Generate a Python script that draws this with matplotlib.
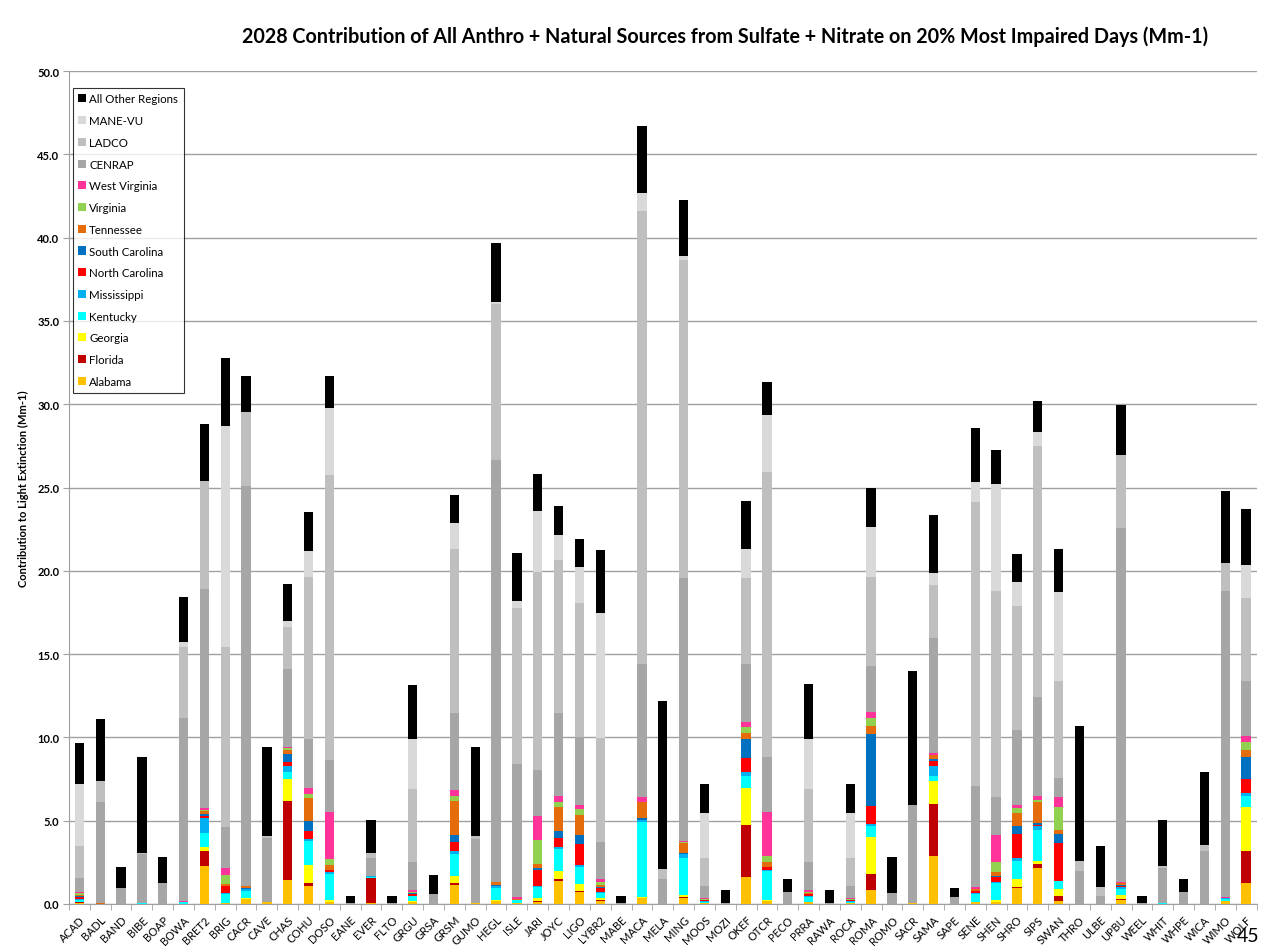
import matplotlib.pyplot as plt
import numpy as np

plt.rcParams['font.family'] = ['Lato', 'DejaVu Sans']

sites = ['ACAD', 'BADL', 'BAND', 'BIBE', 'BOAP', 'BOWA', 'BRET2', 'BRIG', 'CACR', 'CAVE',
         'CHAS', 'COHU', 'DOSO', 'EANE', 'EVER', 'FLTO', 'GRGU', 'GRSA', 'GRSM', 'GUMO',
         'HEGL', 'ISLE', 'JARI', 'JOYC', 'LIGO', 'LYBR2', 'MABE', 'MACA', 'MELA', 'MING',
         'MOOS', 'MOZI', 'OKEF', 'OTCR', 'PECO', 'PRRA', 'RAWA', 'ROCA', 'ROMA', 'ROMO',
         'SACR', 'SAMA', 'SAPE', 'SENE', 'SHEN', 'SHRO', 'SIPS', 'SWAN', 'THRO', 'ULBE',
         'UPBU', 'WEEL', 'WHIT', 'WHPE', 'WICA', 'WIMO', 'WOLF']

### contributions (Mm-1), one list per source, stacked bottom to top
alabama = [0.05, 0, 0, 0, 0, 0, 2.26, 0.06, 0.28, 0.1,
           1.46, 1.06, 0.12, 0, 0.05, 0, 0.1, 0, 1.16, 0.08,
           0.2, 0.03, 0.14, 1.4, 0.74, 0.2, 0, 0.36, 0, 0.36,
           0.05, 0, 1.64, 0.15, 0, 0.1, 0, 0.05, 0.86, 0,
           0.05, 2.9, 0, 0.1, 0.14, 0.94, 2.16, 0.2, 0, 0,
           0.25, 0, 0, 0, 0, 0.15, 1.26]
florida = [0.05, 0, 0, 0, 0, 0, 0.92, 0, 0.03, 0,
           4.7, 0.2, 0, 0, 1.5, 0, 0.02, 0, 0.1, 0,
           0, 0, 0.05, 0.1, 0.06, 0.03, 0, 0, 0, 0.06,
           0, 0, 3.12, 0, 0, 0, 0, 0, 0.94, 0,
           0, 3.1, 0, 0, 0, 0.1, 0.24, 0.26, 0, 0,
           0.06, 0, 0, 0, 0, 0, 1.94]
georgia = [0.02, 0, 0, 0, 0, 0, 0.26, 0, 0.02, 0,
           1.34, 1.08, 0.12, 0, 0, 0, 0.03, 0, 0.4, 0,
           0.05, 0, 0.15, 0.5, 0.4, 0.1, 0, 0.06, 0, 0.1,
           0.02, 0, 2.18, 0.1, 0, 0.03, 0, 0.02, 2.24, 0,
           0, 1.4, 0, 0.02, 0.12, 0.46, 0.2, 0.44, 0, 0,
           0.25, 0, 0, 0, 0, 0, 2.6]
kentucky = [0.12, 0.02, 0, 0.05, 0, 0.1, 0.82, 0.54, 0.45, 0,
            0.4, 1.46, 1.56, 0, 0.05, 0, 0.3, 0, 1.34, 0,
            0.7, 0.2, 0.66, 1.27, 1.0, 0.35, 0, 4.5, 0, 2.26,
            0.06, 0, 0.76, 1.7, 0, 0.3, 0, 0.06, 0.62, 0,
            0, 0.3, 0, 0.5, 1.0, 1.1, 1.84, 0.5, 0, 0,
            0.35, 0, 0.06, 0, 0, 0.15, 0.7]
mississippi = [0.03, 0, 0, 0, 0, 0, 0.88, 0.05, 0.1, 0,
               0.36, 0.1, 0.1, 0, 0.1, 0, 0.05, 0, 0.16, 0,
               0.1, 0.03, 0.06, 0.13, 0.14, 0.05, 0, 0.1, 0, 0.2,
               0.02, 0, 0.2, 0.1, 0, 0.05, 0, 0.02, 0.14, 0,
               0, 0.6, 0, 0.05, 0.08, 0.16, 0.22, 0, 0, 0,
               0.1, 0, 0, 0, 0, 0.05, 0.16]
n_carolina = [0.15, 0, 0, 0, 0, 0, 0.16, 0.4, 0.03, 0,
              0.28, 0.5, 0.16, 0, 0, 0, 0.1, 0, 0.54, 0,
              0.03, 0, 0.98, 0.54, 1.26, 0.25, 0, 0, 0, 0,
              0.06, 0, 0.84, 0.14, 0, 0.1, 0, 0.06, 1.1, 0,
              0, 0.3, 0, 0.08, 0.3, 1.42, 0.1, 2.24, 0, 0,
              0.05, 0, 0, 0, 0, 0, 0.84]
s_carolina = [0.03, 0, 0, 0, 0, 0, 0.1, 0.05, 0.05, 0,
              0.46, 0.6, 0, 0, 0, 0, 0.03, 0, 0.46, 0,
              0.06, 0, 0.1, 0.46, 0.54, 0.05, 0, 0.12, 0, 0.1,
              0.02, 0, 1.16, 0.02, 0, 0.03, 0, 0.02, 4.3, 0,
              0, 0.1, 0, 0.03, 0.06, 0.52, 0.08, 0.56, 0, 0,
              0.1, 0, 0, 0, 0, 0, 1.34]
tennessee = [0.08, 0.02, 0, 0, 0, 0, 0.2, 0.1, 0.1, 0,
             0.26, 1.34, 0.3, 0, 0, 0, 0.05, 0, 2.04, 0,
             0.15, 0.03, 0.26, 1.4, 1.2, 0.12, 0, 0.96, 0, 0.6,
             0.03, 0, 0.36, 0.32, 0, 0.05, 0, 0.03, 0.5, 0,
             0, 0.24, 0, 0.1, 0.2, 0.76, 1.26, 0.26, 0, 0,
             0.1, 0, 0, 0, 0, 0, 0.4]
virginia = [0.1, 0, 0, 0, 0, 0, 0.05, 0.56, 0, 0,
            0.1, 0.26, 0.34, 0, 0, 0, 0.05, 0, 0.3, 0,
            0.02, 0.02, 1.44, 0.3, 0.36, 0.15, 0, 0.05, 0, 0.04,
            0.04, 0, 0.38, 0.32, 0, 0.07, 0, 0.04, 0.46, 0,
            0, 0.02, 0, 0.02, 0.64, 0.3, 0.16, 1.38, 0, 0,
            0.02, 0, 0, 0, 0, 0, 0.46]
w_virginia = [0.1, 0.01, 0, 0, 0, 0.05, 0.1, 0.4, 0, 0,
              0.08, 0.36, 2.8, 0, 0, 0, 0.1, 0, 0.36, 0,
              0.03, 0.1, 1.46, 0.36, 0.26, 0.2, 0, 0.25, 0, 0.08,
              0.05, 0, 0.3, 2.68, 0, 0.1, 0, 0.05, 0.34, 0,
              0, 0.08, 0, 0.1, 1.62, 0.2, 0.24, 0.6, 0, 0,
              0.02, 0, 0, 0, 0, 0.05, 0.4]
cenrap = [0.8, 6.05, 0.95, 2.95, 1.25, 11.0, 13.15, 2.44, 24.06, 3.85,
          4.66, 2.94, 3.16, 0.05, 1.05, 0.05, 1.7, 0.6, 4.6, 3.8,
          25.3, 8.0, 2.76, 4.99, 4.08, 2.2, 0.05, 8.0, 1.5, 15.78,
          0.75, 0.05, 3.46, 3.27, 0.7, 1.7, 0.05, 0.75, 2.78, 0.65,
          5.9, 6.91, 0.4, 6.1, 2.24, 4.48, 5.95, 1.1, 2.0, 0.5,
          21.26, 0.05, 2.1, 0.7, 3.15, 18.4, 3.3]
ladco = [1.96, 1.3, 0.02, 0.05, 0, 4.3, 6.5, 10.8, 4.4, 0.15,
         2.5, 9.73, 17.1, 0, 0.3, 0, 4.4, 0, 9.84, 0.2,
         9.36, 9.34, 11.84, 9.2, 8.05, 6.25, 0, 27.18, 0.6, 19.07,
         1.65, 0, 5.18, 17.16, 0, 4.4, 0, 1.65, 5.35, 0,
         0, 3.2, 0, 17.05, 12.4, 7.46, 15.05, 5.86, 0.6, 0.5,
         4.39, 0, 0.1, 0, 0.4, 1.69, 4.97]
manevu = [3.7, 0, 0, 0, 0, 0.25, 0, 13.3, 0, 0,
          0.4, 1.55, 4.0, 0, 0, 0, 3.0, 0, 1.54, 0,
          0.16, 0.41, 3.68, 1.48, 2.16, 7.52, 0, 1.11, 0, 0.26,
          2.7, 0, 1.74, 3.37, 0, 3.0, 0, 2.7, 2.97, 0,
          0, 0.74, 0, 1.19, 6.44, 1.45, 0.83, 5.35, 0, 0,
          0, 0, 0, 0, 0, 0, 1.97]
other = [2.5, 3.7, 1.25, 5.75, 1.55, 2.7, 3.4, 4.1, 2.18, 5.35,
         2.2, 2.32, 1.95, 0.45, 2.0, 0.45, 3.2, 1.15, 1.74, 5.35,
         3.49, 2.92, 2.26, 1.76, 1.64, 3.78, 0.45, 4.0, 10.08, 3.33,
         1.75, 0.8, 2.85, 2.02, 0.8, 3.25, 0.8, 1.75, 2.38, 2.15,
         8.05, 3.43, 0.55, 3.23, 2.0, 1.66, 1.88, 2.57, 8.1, 2.45,
         2.98, 0.45, 2.8, 0.8, 4.4, 4.32, 3.36]

series = [('Alabama', alabama, '#FFC000'),
          ('Florida', florida, '#C00000'),
          ('Georgia', georgia, '#FFFF00'),
          ('Kentucky', kentucky, '#00FFFF'),
          ('Mississippi', mississippi, '#00B0F0'),
          ('North Carolina', n_carolina, '#FF0000'),
          ('South Carolina', s_carolina, '#0070C0'),
          ('Tennessee', tennessee, '#E46C0A'),
          ('Virginia', virginia, '#92D050'),
          ('West Virginia', w_virginia, '#FF3399'),
          ('CENRAP', cenrap, '#A6A6A6'),
          ('LADCO', ladco, '#BFBFBF'),
          ('MANE-VU', manevu, '#D9D9D9'),
          ('All Other Regions', other, '#000000')]

fig = plt.figure(figsize=(12.77, 9.53), dpi=100)
ax = fig.add_axes([0.054, 0.0504, 0.93, 0.874])

x = np.arange(len(sites))
bottom = np.zeros(len(sites))
for name, vals, col in series:
    vals = np.array(vals)
    ax.bar(x, vals, 0.45, bottom=bottom, color=col, label=name, zorder=3)
    bottom += vals

ax.set_xlim(-0.5, len(sites) - 0.5)
ax.set_ylim(0, 50)
ax.set_yticks(np.arange(0, 50.1, 5))
ax.set_yticklabels(['%.1f' % v for v in np.arange(0, 50.1, 5)], fontsize=8, fontweight='bold')
ax.yaxis.grid(True, color='#A0A0A0', lw=1, zorder=0)
ax.tick_params(axis='y', length=4, color='#A0A0A0', pad=3)

ax.set_xticks(x)
ax.set_xticklabels(sites, rotation=45, ha='right', rotation_mode='anchor', fontsize=8)
ax.set_xticks(np.arange(-0.5, len(sites), 1), minor=True)
ax.tick_params(axis='x', which='major', length=0, pad=7)
ax.tick_params(axis='x', which='minor', length=4, color='#A0A0A0')

for s in ['top', 'right']:
    ax.spines[s].set_visible(False)
for s in ['left', 'bottom']:
    ax.spines[s].set_color('#A0A0A0')

ax.set_ylabel('Contribution to Light Extinction (Mm-1)', fontsize=8, fontweight='bold', labelpad=6)

handles, labels = ax.get_legend_handles_labels()
leg = ax.legend(handles[::-1], labels[::-1], loc='upper left', bbox_to_anchor=(0.003, 0.98),
                fontsize=8.3, frameon=True, fancybox=False, edgecolor='black',
                handlelength=0.7, handleheight=0.7, handletextpad=0.25,
                labelspacing=0.93, borderpad=0.5, borderaxespad=0)
leg.get_frame().set_linewidth(0.8)

fig.text(0.568, 0.961, '2028 Contribution of All Anthro + Natural Sources from Sulfate + Nitrate on 20% Most Impaired Days (Mm-1)',
         ha='center', va='center', fontsize=14.2, fontweight='bold')
fig.text(0.977, 0.017, '45', ha='center', va='center', fontsize=14)

fig.savefig('out.png', dpi=100)
